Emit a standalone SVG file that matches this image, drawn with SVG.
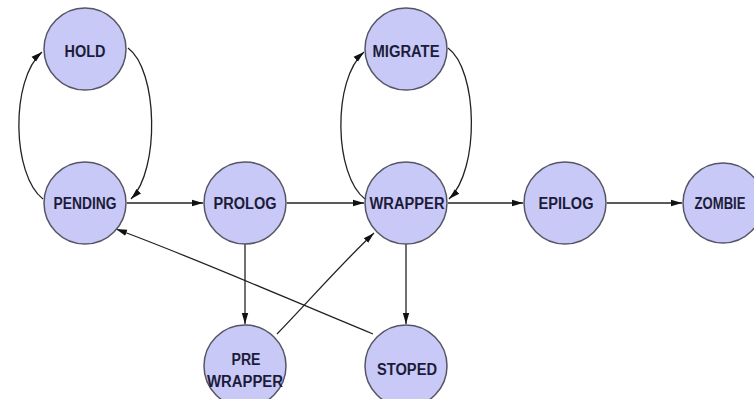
<svg xmlns="http://www.w3.org/2000/svg" width="754" height="399" viewBox="0 0 754 399">
<defs>
<marker id="arr" markerWidth="12" markerHeight="8" refX="11" refY="4" orient="auto" markerUnits="userSpaceOnUse">
<path d="M0,0.8 L11,4 L0,7.2 Z" fill="#111"/>
</marker>
<style>
.n circle{fill:#c9c9f7;stroke:#555566;stroke-width:1.5}
.n text{font-family:"Liberation Sans",Arial,sans-serif;font-weight:bold;font-size:16px;fill:#1c1c3a;text-anchor:middle}
.e path{fill:none;stroke:#222;stroke-width:1.3;marker-end:url(#arr)}
</style>
</defs>
<rect width="754" height="399" fill="#ffffff"/>
<g id="connectors" class="e">
<path d="M43,199 C12,175 10,80 42,52"/>
<path d="M128,48 C158,70 160,170 131,199"/>
<path d="M365,199 C334,175 332,80 364,52"/>
<path d="M448,48 C478,70 480,170 449,199"/>
<path d="M127,203 L203,203"/>
<path d="M287,203 L364,203"/>
<path d="M448,203 L523,203"/>
<path d="M607,203 L682,203"/>
<path d="M245,244 L245,324"/>
<path d="M406,244 L406,324"/>
<path d="M277,334 C310,300 340,265 374,233"/>
<path d="M373,334 C290,300 200,260 116,229"/>
</g>
<g id="node-hold" class="n"><circle cx="85" cy="49" r="41"/><text x="85" y="57" textLength="41" lengthAdjust="spacingAndGlyphs">HOLD</text></g>
<g id="node-pending" class="n"><circle cx="85" cy="203" r="41"/><text x="85" y="209" textLength="63" lengthAdjust="spacingAndGlyphs">PENDING</text></g>
<g id="node-prolog" class="n"><circle cx="245" cy="203" r="41"/><text x="245" y="209" textLength="63" lengthAdjust="spacingAndGlyphs">PROLOG</text></g>
<g id="node-migrate" class="n"><circle cx="406" cy="49" r="41"/><text x="406" y="57" textLength="67" lengthAdjust="spacingAndGlyphs">MIGRATE</text></g>
<g id="node-wrapper" class="n"><circle cx="406" cy="203" r="41"/><text x="407" y="209" textLength="75" lengthAdjust="spacingAndGlyphs">WRAPPER</text></g>
<g id="node-epilog" class="n"><circle cx="565" cy="203" r="41"/><text x="566" y="209" textLength="55" lengthAdjust="spacingAndGlyphs">EPILOG</text></g>
<g id="node-zombie" class="n"><circle cx="723" cy="203" r="40"/><text x="720" y="209" textLength="51" lengthAdjust="spacingAndGlyphs">ZOMBIE</text></g>
<g id="node-prewrapper" class="n"><circle cx="245" cy="366" r="41"/><text x="246" y="365" textLength="29" lengthAdjust="spacingAndGlyphs">PRE</text><text x="245" y="387" textLength="76" lengthAdjust="spacingAndGlyphs">WRAPPER</text></g>
<g id="node-stoped" class="n"><circle cx="406" cy="366" r="41"/><text x="407" y="375" textLength="60" lengthAdjust="spacingAndGlyphs">STOPED</text></g>
</svg>
